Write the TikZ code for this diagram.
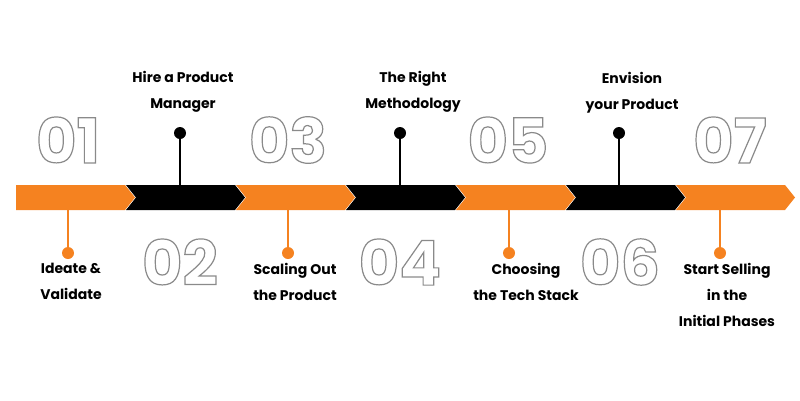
\documentclass[tikz,border=0pt]{standalone}
\usepackage{fontspec}
\setmainfont{Poppins}
\usetikzlibrary{calc}
\definecolor{org}{HTML}{F58220}
\definecolor{numgray}{HTML}{8A8A8A}
\newcommand{\outl}[1]{\special{pdf:literal direct 1 Tr 1.2 w}#1\special{pdf:literal direct 0 Tr}}
\tikzset{
 lbl/.style={font=\fontsize{14}{26}\selectfont\bfseries, align=center, text=black, inner sep=0pt},
 num/.style={font=\fontsize{62}{62}\selectfont\bfseries, text=numgray, inner sep=0pt},
 dot/.style={circle, inner sep=0pt, minimum size=12pt},
}
\begin{document}
\begin{tikzpicture}[x=1pt,y=-1pt]
\useasboundingbox (0,0) rectangle (800,400);
% bar segments
\foreach \i/\c in {0/org,1/black,2/org,3/black,4/org,5/black,6/org}{
  \pgfmathsetmacro{\L}{16+110*\i}
  \pgfmathsetmacro{\R}{\L+109}
  \ifnum\i=0
    \fill[\c] (\L,185) -- (\R,185) -- (\R+10,197.5) -- (\R,210) -- (\L,210) -- cycle;
  \else
    \fill[\c] (\L,185) -- (\R,185) -- (\R+10,197.5) -- (\R,210) -- (\L,210) -- (\L+10,197.5) -- cycle;
  \fi
}
% numbers
\node[num] (n1) at (68,140) {\outl{01}};
\node[num] (n2) at (180,262) {\outl{02}};
\node[num] (n3) at (288,140) {\outl{03}};
\node[num] (n4) at (400,262) {\outl{04}};
\node[num] (n5) at (508,140) {\outl{05}};
\node[num] (n6) at (620,262) {\outl{06}};
\node[num] (n7) at (730,140) {\outl{07}};
% bottom stems (orange)
\foreach \n/\x in {a/68,b/288,c/509,d/720}{
  \coordinate (s\n) at (\x,210);
  \node[dot,fill=org] (d\n) at (\x,253) {};
  \draw[org,line width=1.3pt] (s\n) -- (d\n.center);
}
% top stems (black)
\foreach \n/\x in {e/180,f/400,g/619}{
  \coordinate (s\n) at (\x,185);
  \node[dot,fill=black] (d\n) at (\x,133) {};
  \draw[black,line width=1.3pt] (s\n) -- (d\n.center);
}
% labels
\node[lbl,anchor=north] (l1) at (71,263) {Ideate \&\\Validate};
\node[lbl,anchor=north] (l3) at (295,263) {Scaling Out\\the Product};
\node[lbl,anchor=north] (l5) at (526,263) {Choosing\\the Tech Stack};
\node[lbl,anchor=north] (l7) at (727,263) {Start Selling\\in the\\Initial Phases};
\node[lbl,anchor=south] (l2) at (183,113) {Hire a Product\\Manager};
\node[lbl,anchor=south] (l4) at (413,113) {The Right\\Methodology};
\node[lbl,anchor=south] (l6) at (632,113) {Envision\\your Product};
\end{tikzpicture}
\end{document}
